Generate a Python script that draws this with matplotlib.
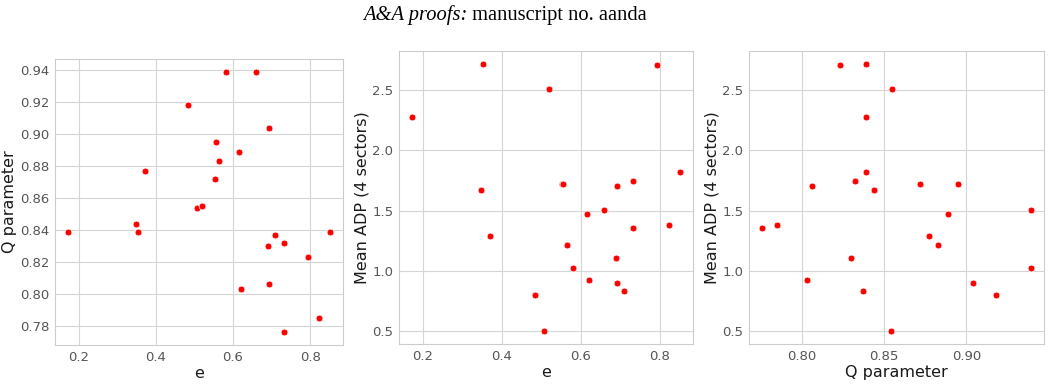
import matplotlib
matplotlib.use("Agg")
import matplotlib.pyplot as plt

# eccentricity, Q parameter and mean ADP (4 sectors) per object
e = [0.173, 0.348, 0.353, 0.371, 0.484, 0.507, 0.520, 0.553, 0.556, 0.565,
     0.581, 0.615, 0.622, 0.660, 0.690, 0.692, 0.693, 0.709, 0.733, 0.733,
     0.794, 0.824, 0.851]
q_param = [0.839, 0.844, 0.839, 0.877, 0.918, 0.854, 0.855, 0.872, 0.895, 0.883,
           0.939, 0.889, 0.803, 0.939, 0.830, 0.904, 0.806, 0.837, 0.832, 0.776,
           0.823, 0.785, 0.839]
adp = [2.278, 1.675, 2.717, 1.292, 0.800, 0.500, 2.514, 1.725, 1.725, 1.217,
       1.022, 1.472, 0.919, 1.508, 1.106, 0.900, 1.706, 0.833, 1.744, 1.358,
       2.711, 1.383, 1.822]

fig = plt.figure(figsize=(10.51, 3.84), dpi=100)

# page header
fig.text(0.4445, 0.96, "A&A proofs:", ha="right", va="center",
         family="Liberation Serif", style="italic", fontsize=14.8)
fig.text(0.4445, 0.96, " manuscript no. aanda", ha="left", va="center",
         family="Liberation Serif", fontsize=14.8)

W, H = 1051, 384
boxes = [(55, 59, 343, 345), (399, 51, 693, 344), (749, 51, 1044, 344)]
panels = [(e, q_param, "e", "Q parameter"),
          (e, adp, "e", "Mean ADP (4 sectors)"),
          (q_param, adp, "Q parameter", "Mean ADP (4 sectors)")]

for (x0, y0, x1, y1), (xs, ys, xl, yl) in zip(boxes, panels):
    ax = fig.add_axes([x0 / W, 1 - y1 / H, (x1 - x0) / W, (y1 - y0) / H])
    ax.set_axisbelow(True)
    ax.grid(True, color="#d5d5d5", linewidth=0.8)
    for s in ax.spines.values():
        s.set_color("#cccccc")
        s.set_linewidth(0.8)
    ax.tick_params(length=0, labelsize=9.5, labelcolor="#555555", pad=4)
    ax.scatter(xs, ys, s=24, color="red", edgecolor="white", linewidth=0.5, zorder=3)
    ax.set_xlabel(xl, fontsize=11.5, color="#1a1a1a", labelpad=2)
    ax.set_ylabel(yl, fontsize=11.5, color="#1a1a1a", labelpad=2)

fig.savefig("out.png", dpi=100)
